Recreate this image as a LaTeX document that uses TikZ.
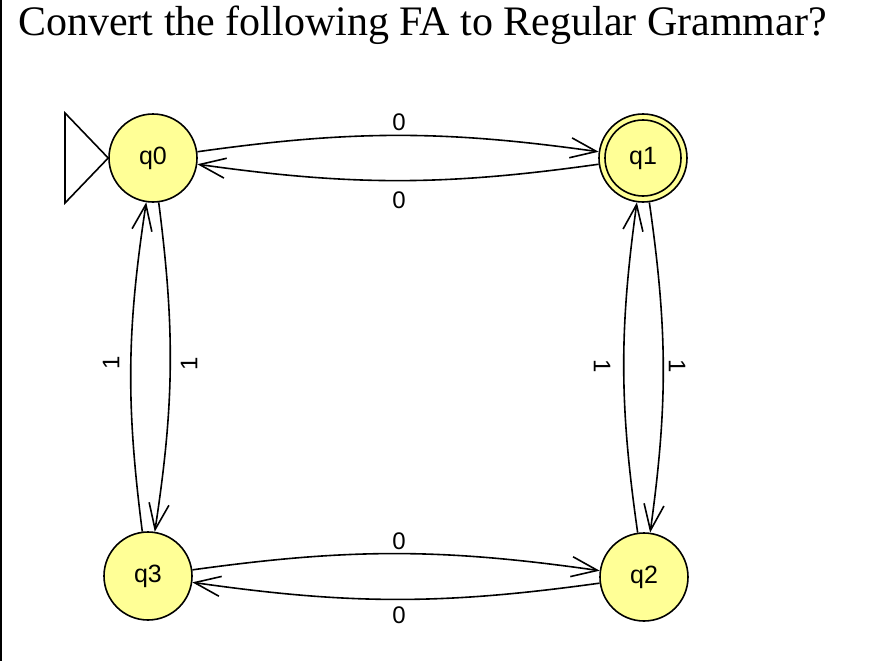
\documentclass[tikz,border=0pt]{standalone}
\usepackage{fontspec}
\setmainfont{Liberation Serif}
\newfontfamily\arialfont{Liberation Sans}
\usetikzlibrary{arrows.meta}
\definecolor{stfill}{RGB}{255,255,150}
\tikzset{
  fastate/.style={circle, draw=black, fill=stfill, line width=1.6pt, minimum size=88pt, inner sep=0pt, font=\arialfont\fontsize{25}{27}\selectfont},
  trans/.style={draw=black, line width=1.6pt, -{Straight Barb[length=26pt,width=20pt,line width=1.6pt]}, bend left=8},
  elabel/.style={font=\arialfont\fontsize{24}{26}\selectfont, inner sep=0pt}
}
\begin{document}
\begin{tikzpicture}[x=1pt,y=1pt]
\useasboundingbox (0,0) rectangle (872,-661);
\fill[white] (0,0) rectangle (872,-661);
\draw[line width=1.5pt, black] (1,0) -- (1,-661);
\node[anchor=base west, inner sep=0pt, font=\fontsize{42}{44}\selectfont] (title) at (18,-36) {Convert the following FA to Regular Grammar?};

\node[fastate] (q0) at (153,-158) {q0};
\node[fastate] (q1) at (643,-158) {q1};
\node[fastate] (q2) at (644,-577) {q2};
\node[fastate] (q3) at (148,-576) {q3};
\draw[line width=1.6pt] (q1.center) circle (38pt);

\coordinate (s1) at (65,-113);
\coordinate (s2) at (65,-203);
\draw[line width=1.6pt, line join=miter] (s1) -- (q0.west) -- (s2) -- cycle;

\draw[trans] (q0) to (q1);
\draw[trans] (q1) to (q0);
\draw[trans] (q0) to (q3);
\draw[trans] (q3) to (q0);
\draw[trans] (q1) to (q2);
\draw[trans] (q2) to (q1);
\draw[trans] (q3) to (q2);
\draw[trans] (q2) to (q3);

\node[elabel] (l01) at (399,-122) {0};
\node[elabel] (l10) at (399,-200) {0};
\node[elabel, rotate=90] (l30) at (111,-363) {1};
\node[elabel, rotate=90] (l03) at (189,-364) {1};
\node[elabel, rotate=-90] (l21) at (602,-366) {1};
\node[elabel, rotate=-90] (l12) at (677,-366) {1};
\node[elabel] (l32) at (399,-541) {0};
\node[elabel] (l23) at (399,-615) {0};
\end{tikzpicture}
\end{document}
